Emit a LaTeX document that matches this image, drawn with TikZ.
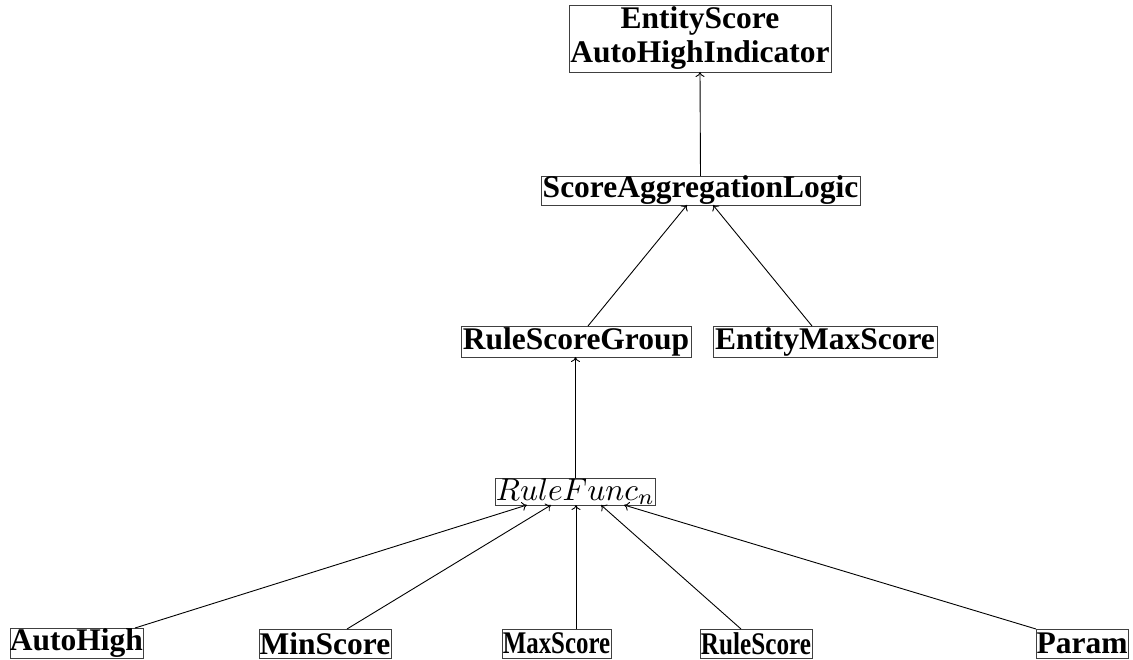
\documentclass[tikz,border=0pt]{standalone}
\usepackage{fontspec}
\setmainfont{Liberation Serif}
\usetikzlibrary{arrows.meta}
\begin{document}
\begin{tikzpicture}[x=1pt,y=-1pt,
  box/.style={draw=black!75,line width=0.8pt,inner sep=0pt,outer sep=0pt,
    font=\fontsize{31.5pt}{30pt}\selectfont\bfseries,align=center},
  edge/.style={line width=0.9pt,-{To[length=5pt,width=9pt]}}]
\useasboundingbox (0,0) rectangle (1133,660);
\node[box,minimum width=262pt,minimum height=67pt,font=\fontsize{31.5pt}{34pt}\selectfont\bfseries] (top) at (700,38.5) {EntityScore\\AutoHighIndicator};
\node[box,minimum width=319pt,minimum height=29pt] (sal) at (700.5,190.5) {ScoreAggregationLogic};
\node[box,minimum width=230pt,minimum height=31pt] (rsg) at (576,341.5) {RuleScoreGroup};
\node[box,minimum width=224pt,minimum height=31pt] (ems) at (825,341.5) {EntityMaxScore};
\node[box,minimum width=157pt,minimum height=27pt,font=\normalsize] (rf) at (575.5,491.5) {\scalebox{3.15}{$RuleFunc_n$}};
\node[box,minimum width=133pt,minimum height=30pt] (ah) at (76.5,643) {AutoHigh};
\node[box,minimum width=132pt,minimum height=29pt] (mins) at (325,643.5) {MinScore};
\node[box,minimum width=109pt,minimum height=29pt] (maxs) at (556.5,643.5) {\scalebox{0.79}[1]{MaxScore}};
\node[box,minimum width=112pt,minimum height=29pt] (rs) at (756,643.5) {\scalebox{0.8}[1]{RuleScore}};
\node[box,minimum width=92pt,minimum height=29pt] (pa) at (1082,643.5) {Param};

\draw[edge] (sal.north) -- (top.south);
\draw[edge] ([xshift=12pt]rsg.north) -- ([xshift=-13.5pt]sal.south);
\draw[edge] ([xshift=-13pt]ems.north) -- ([xshift=12.5pt]sal.south);
\draw[edge] (rf.north) -- (rsg.south -| rf.north);
\draw[edge] ([xshift=-8pt]ah.north east) -- ([xshift=-48.5pt]rf.south);
\draw[edge] ([xshift=22pt]mins.north) -- ([xshift=-24.5pt]rf.south);
\draw[edge] ([xshift=19.5pt]maxs.north) -- ([xshift=0.5pt]rf.south);
\draw[edge] ([xshift=-15pt]rs.north) -- ([xshift=25.5pt]rf.south);
\draw[edge] (pa.north west) -- ([xshift=48.5pt]rf.south);
\end{tikzpicture}
\end{document}
